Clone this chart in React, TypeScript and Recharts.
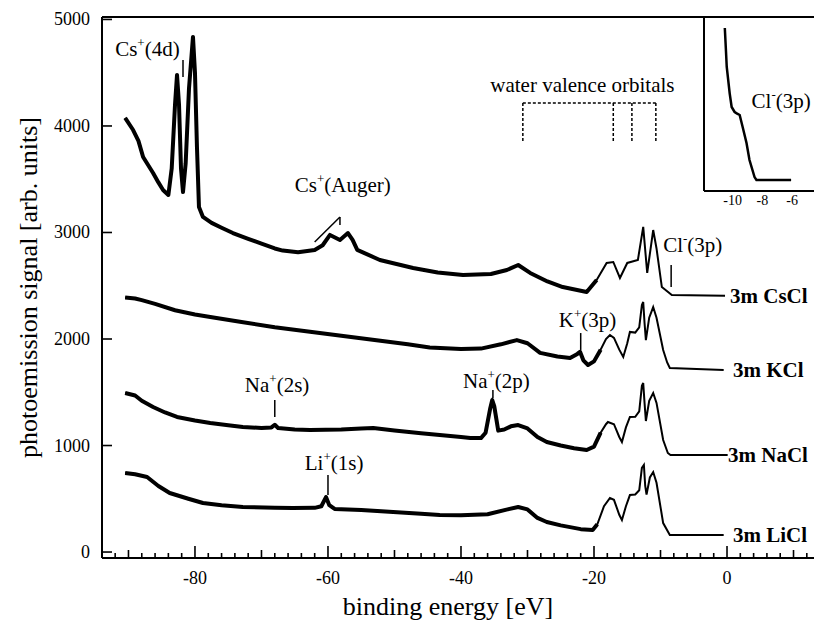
import React from 'react';
import { Label, Line, LineChart, ReferenceDot, ReferenceLine, XAxis, YAxis } from 'recharts';

type Pt = [number, number];

// binding energy [eV], signal [arb. units]
const cscl: Pt[] = [
  [-90.5, 4075], [-89.3, 3962], [-88.5, 3860], [-87.8, 3709], [-86.3, 3559], [-85.5, 3470],
  [-84.8, 3399], [-84.0, 3352], [-83.5, 3600], [-83.0, 4200], [-82.7, 4479], [-82.4, 4200],
  [-82.1, 3600], [-81.8, 3380], [-81.4, 3650], [-80.9, 4350], [-80.3, 4836], [-80.0, 4500],
  [-79.7, 3800], [-79.4, 3240], [-78.8, 3146], [-77.5, 3090], [-76.0, 3045], [-74.3, 2995],
  [-72.0, 2940], [-70.0, 2895], [-68.0, 2850], [-66.8, 2830], [-64.5, 2815], [-62.0, 2836],
  [-60.8, 2880], [-59.7, 2977], [-58.2, 2930], [-57.0, 2995], [-56.3, 2930], [-55.6, 2836],
  [-52.2, 2742], [-47.2, 2667], [-43.5, 2625], [-39.7, 2601], [-35.5, 2610], [-33.1, 2648],
  [-31.4, 2695], [-29.6, 2620], [-27.0, 2540], [-24.7, 2488], [-21.1, 2441], [-19.6, 2554],
  [-18.1, 2714], [-17.1, 2723], [-16.1, 2573], [-15.0, 2714], [-13.4, 2742], [-12.6, 3052],
  [-12.0, 2620], [-11.1, 3023], [-10.6, 2850], [-9.8, 2488], [-8.3, 2413], [-0.3, 2405],
];

const kcl: Pt[] = [
  [-90.5, 2390], [-89.0, 2380], [-88.0, 2365], [-86.0, 2330], [-83.0, 2270], [-80.0, 2230],
  [-77.0, 2200], [-73.0, 2160], [-68.0, 2110], [-63.0, 2070], [-58.0, 2030], [-53.0, 1990],
  [-48.0, 1950], [-44.7, 1920], [-40.0, 1905], [-37.0, 1910], [-34.0, 1950], [-31.6, 1990],
  [-30.0, 1960], [-28.1, 1870], [-25.5, 1835], [-23.6, 1822], [-22.5, 1860], [-22.1, 1880],
  [-21.6, 1800], [-20.9, 1756], [-20.0, 1790], [-19.0, 1900], [-18.2, 2000], [-17.6, 2037],
  [-17.0, 2010], [-16.2, 1900], [-15.6, 1831], [-15.0, 1960], [-14.6, 2066], [-13.8, 2060],
  [-13.2, 2110], [-12.8, 2320], [-12.6, 2347], [-12.4, 2150], [-12.2, 1990], [-11.7, 2200],
  [-11.1, 2300], [-10.6, 2200], [-9.6, 1897], [-9.0, 1780], [-8.6, 1728], [-0.5, 1710],
];

const nacl: Pt[] = [
  [-90.5, 1493], [-89.0, 1470], [-88.0, 1420], [-86.3, 1362], [-84.5, 1310], [-82.7, 1268],
  [-80.0, 1235], [-77.7, 1211], [-75.0, 1190], [-72.8, 1174], [-70.0, 1165], [-68.5, 1170],
  [-68.0, 1195], [-67.5, 1165], [-65.0, 1150], [-62.7, 1146], [-58.0, 1150], [-55.0, 1160],
  [-53.2, 1164], [-50.0, 1140], [-46.0, 1115], [-43.2, 1099], [-40.0, 1080], [-38.6, 1070],
  [-37.0, 1070], [-36.3, 1120], [-35.6, 1350], [-35.3, 1427], [-35.0, 1370], [-34.4, 1140],
  [-33.5, 1150], [-32.5, 1180], [-31.4, 1192], [-30.0, 1160], [-28.5, 1080], [-27.1, 1033],
  [-25.0, 1000], [-23.0, 975], [-21.1, 958], [-20.0, 990], [-19.0, 1120], [-18.2, 1200],
  [-17.9, 1221], [-17.0, 1200], [-16.2, 1080], [-15.8, 1033], [-15.2, 1170], [-14.6, 1268],
  [-13.8, 1270], [-13.2, 1320], [-12.8, 1560], [-12.6, 1587], [-12.4, 1400], [-12.2, 1230],
  [-11.7, 1420], [-11.1, 1493], [-10.6, 1400], [-9.6, 1052], [-8.9, 930], [-8.5, 911],
  [0.1, 911],
];

const licl: Pt[] = [
  [-90.5, 742], [-89.0, 730], [-87.2, 704], [-85.5, 620], [-83.8, 554], [-81.0, 500],
  [-78.8, 460], [-76.0, 440], [-72.8, 423], [-68.0, 415], [-65.3, 413], [-62.0, 415],
  [-61.0, 430], [-60.3, 516], [-59.8, 440], [-59.0, 405], [-55.0, 395], [-50.2, 376],
  [-46.0, 360], [-43.2, 347], [-40.0, 345], [-36.0, 355], [-33.0, 400], [-31.4, 423],
  [-30.0, 400], [-28.5, 320], [-27.1, 282], [-25.0, 250], [-22.0, 215], [-20.2, 207],
  [-19.5, 260], [-18.5, 430], [-17.6, 507], [-17.0, 490], [-16.2, 350], [-15.8, 300],
  [-15.2, 430], [-14.6, 535], [-13.8, 540], [-13.2, 580], [-12.8, 790], [-12.5, 817],
  [-12.3, 620], [-12.1, 540], [-11.6, 700], [-11.1, 751], [-10.6, 650], [-9.6, 272],
  [-8.6, 160], [-0.5, 160],
];

// inset: Cl-(3p) onset, signal in inset units (0..100)
const insetCl: Pt[] = [
  [-10.53, 93.7], [-10.45, 80], [-10.4, 71.3], [-10.2, 56], [-10.07, 48.3], [-9.87, 45.4],
  [-9.7, 44.5], [-9.53, 43.7], [-9.33, 36.8], [-9.07, 27.6], [-8.87, 17.8], [-8.53, 8.0],
  [-8.4, 6.3], [-6.07, 6.3],
];

const spectra = [
  { name: '3m CsCl', pts: cscl, labelX: 0.45, labelY: 2405 },
  { name: '3m KCl', pts: kcl, labelX: 0.9, labelY: 1710 },
  { name: '3m NaCl', pts: nacl, labelX: 0.15, labelY: 911 },
  { name: '3m LiCl', pts: licl, labelX: 0.9, labelY: 160 },
];

const annotations = [
  { base: 'Cs', sup: '+', rest: '(4d)', x: -92.0, y: 4657 },
  { base: 'Cs', sup: '+', rest: '(Auger)', x: -65.0, y: 3380 },
  { base: 'water valence orbitals', sup: '', rest: '', x: -35.6, y: 4319 },
  { base: 'Cl', sup: '-', rest: '(3p)', x: -9.6, y: 2817 },
  { base: 'K', sup: '+', rest: '(3p)', x: -25.3, y: 2113 },
  { base: 'Na', sup: '+', rest: '(2p)', x: -39.7, y: 1540 },
  { base: 'Na', sup: '+', rest: '(2s)', x: -72.5, y: 1502 },
  { base: 'Li', sup: '+', rest: '(1s)', x: -63.5, y: 770 },
];

const leaders: [Pt, Pt][] = [
  [[-81.8, 4620], [-81.8, 4460]],
  [[-58.2, 3146], [-62.0, 2911]],
  [[-58.2, 3146], [-58.2, 3070]],
  [[-8.4, 2695], [-8.4, 2488]],
  [[-22.0, 2056], [-22.0, 1897]],
  [[-35.2, 1521], [-35.2, 1446]],
  [[-68.0, 1427], [-68.0, 1268]],
  [[-60.0, 723], [-60.0, 535]],
];

const waterBracket: [Pt, Pt][] = [
  [[-30.7, 4216], [-10.7, 4216]],
  [[-30.7, 4216], [-30.7, 3850]],
  [[-17.1, 4216], [-17.1, 3850]],
  [[-14.3, 4216], [-14.3, 3850]],
  [[-10.7, 4216], [-10.7, 3850]],
];

const xDomain: [number, number] = [-93.98, 13.08];
const yDomain: [number, number] = [-56, 5023];
const xTicks = Array.from({ length: 53 }, (_, i) => -92 + 2 * i);
const yTicks = [0, 1000, 2000, 3000, 4000, 5000];
const insetTicks = [-10, -8, -6];

const SERIF = '"Liberation Serif", "Times New Roman", serif';
const INK = '#000';

const toRows = (pts: Pt[]) => pts.map(([e, v]) => ({ e, v }));

function XTick(props: any) {
  const { x, y, payload } = props;
  const v = payload.value as number;
  const major = v % 20 === 0;
  const mid = !major && v % 10 === 0;
  const len = major ? 12 : mid ? 8 : 5;
  return (
    <g>
      <line x1={x} x2={x} y1={y} y2={y - len} stroke={INK} strokeWidth={1.6} />
      {major && (
        <text x={x} y={y + 26} textAnchor="middle" fontSize={18} fontFamily={SERIF} fill={INK}>
          {String(v)}
        </text>
      )}
    </g>
  );
}

function YTick(props: any) {
  const { x, y, payload } = props;
  return (
    <g>
      <line x1={x} x2={x + 10} y1={y} y2={y} stroke={INK} strokeWidth={1.6} />
      <text x={x - 12} y={y + 6} textAnchor="end" fontSize={18} fontFamily={SERIF} fill={INK}>
        {String(payload.value)}
      </text>
    </g>
  );
}

function InsetTick(props: any) {
  const { x, y, payload } = props;
  return (
    <text x={x} y={y + 14} textAnchor="middle" fontSize={14} fontFamily={SERIF} fill={INK}>
      {String(payload.value)}
    </text>
  );
}

function AnnoText({ cx, cy, a, size = 21 }: any) {
  return (
    <text x={cx} y={cy} fontSize={size} fontFamily={SERIF} fill={INK}>
      {a.base}
      {a.sup && (
        <tspan dy={-9} fontSize={13}>
          {a.sup}
        </tspan>
      )}
      {a.rest && <tspan dy={a.sup ? 9 : 0}>{a.rest}</tspan>}
    </text>
  );
}

function XTitle(props: any) {
  const vb = props.viewBox;
  return (
    <text x={vb.x + vb.width / 2 - 10} y={vb.y + 57} textAnchor="middle" fontSize={26} fontFamily={SERIF} fill={INK}>
      binding energy [eV]
    </text>
  );
}

function YTitle(props: any) {
  const vb = props.viewBox;
  const cx = vb.x + 37;
  const cy = vb.y + vb.height / 2;
  return (
    <text x={cx} y={cy} transform={`rotate(-90, ${cx}, ${cy})`} textAnchor="middle" fontSize={26} fontFamily={SERIF} fill={INK}>
      photoemission signal [arb. units]
    </text>
  );
}

export default function App() {
  return (
    <div style={{ position: 'absolute', left: 0, top: 0, width: 814, height: 622, background: '#fff' }}>
      <LineChart width={814} height={622} margin={{ top: 17, right: 0, bottom: 0, left: 0 }}>
        <XAxis
          type="number"
          dataKey="e"
          domain={xDomain}
          ticks={xTicks}
          interval={0}
          allowDataOverflow
          height={64}
          tickSize={0}
          tickMargin={0}
          tickLine={false}
          axisLine={{ stroke: INK, strokeWidth: 2 }}
          tick={(p: any) => <XTick {...p} />}
          label={<Label content={XTitle} />}
        />
        <YAxis
          type="number"
          domain={yDomain}
          ticks={yTicks}
          interval={0}
          allowDataOverflow
          width={102}
          tickSize={0}
          tickMargin={0}
          tickLine={false}
          axisLine={{ stroke: INK, strokeWidth: 2 }}
          tick={(p: any) => <YTick {...p} />}
          label={<Label content={YTitle} />}
        />
        <ReferenceLine y={yDomain[1]} stroke={INK} strokeWidth={2} />

        {spectra.map((s) => (
          <Line
            key={s.name}
            data={toRows(s.pts)}
            dataKey="v"
            type="linear"
            stroke={INK}
            strokeWidth={2}
            dot={false}
            isAnimationActive={false}
          />
        ))}
        {spectra.map((s) => (
          <Line
            key={s.name + '-noise'}
            data={toRows(s.pts.filter(([e]) => e <= -19))}
            dataKey="v"
            type="linear"
            stroke={INK}
            strokeWidth={4}
            strokeLinejoin="round"
            dot={false}
            isAnimationActive={false}
          />
        ))}

        {leaders.map(([a, b], i) => (
          <ReferenceLine
            key={'ld' + i}
            segment={[{ x: a[0], y: a[1] }, { x: b[0], y: b[1] }]}
            stroke={INK}
            strokeWidth={1.5}
          />
        ))}
        {waterBracket.map(([a, b], i) => (
          <ReferenceLine
            key={'wb' + i}
            segment={[{ x: a[0], y: a[1] }, { x: b[0], y: b[1] }]}
            stroke={INK}
            strokeWidth={1.5}
            strokeDasharray="3 2"
          />
        ))}

        {annotations.map((a, i) => (
          <ReferenceDot
            key={'an' + i}
            x={a.x}
            y={a.y}
            r={0}
            shape={(p: any) => <AnnoText cx={p.cx} cy={p.cy} a={a} />}
          />
        ))}
        {spectra.map((s) => (
          <ReferenceDot
            key={'lb' + s.name}
            x={s.labelX}
            y={s.labelY}
            r={0}
            shape={(p: any) => (
              <text x={p.cx} y={p.cy + 7} fontSize={21} fontWeight="bold" fontFamily={SERIF} fill={INK}>
                {s.name}
              </text>
            )}
          />
        ))}
      </LineChart>

      <div style={{ position: 'absolute', left: 650, top: 0 }}>
        <LineChart width={164} height={215} margin={{ top: 17, right: 0, bottom: 0, left: 0 }}>
          <XAxis
            type="number"
            dataKey="e"
            domain={[-11.93, -4.53]}
            ticks={insetTicks}
            interval={0}
            allowDataOverflow
            height={24}
            tickSize={0}
            tickMargin={0}
            tickLine={false}
            axisLine={{ stroke: INK, strokeWidth: 2 }}
            tick={(p: any) => <InsetTick {...p} />}
          />
          <YAxis
            type="number"
            domain={[0, 100]}
            allowDataOverflow
            width={54}
            tick={false}
            tickLine={false}
            axisLine={{ stroke: INK, strokeWidth: 2 }}
          />
          <Line
            data={toRows(insetCl)}
            dataKey="v"
            type="linear"
            stroke={INK}
            strokeWidth={2.5}
            dot={false}
            isAnimationActive={false}
          />
          <ReferenceDot
            x={-8.73}
            y={47.7}
            r={0}
            shape={(p: any) => <AnnoText cx={p.cx} cy={p.cy} a={{ base: 'Cl', sup: '-', rest: '(3p)' }} />}
          />
        </LineChart>
      </div>
    </div>
  );
}
